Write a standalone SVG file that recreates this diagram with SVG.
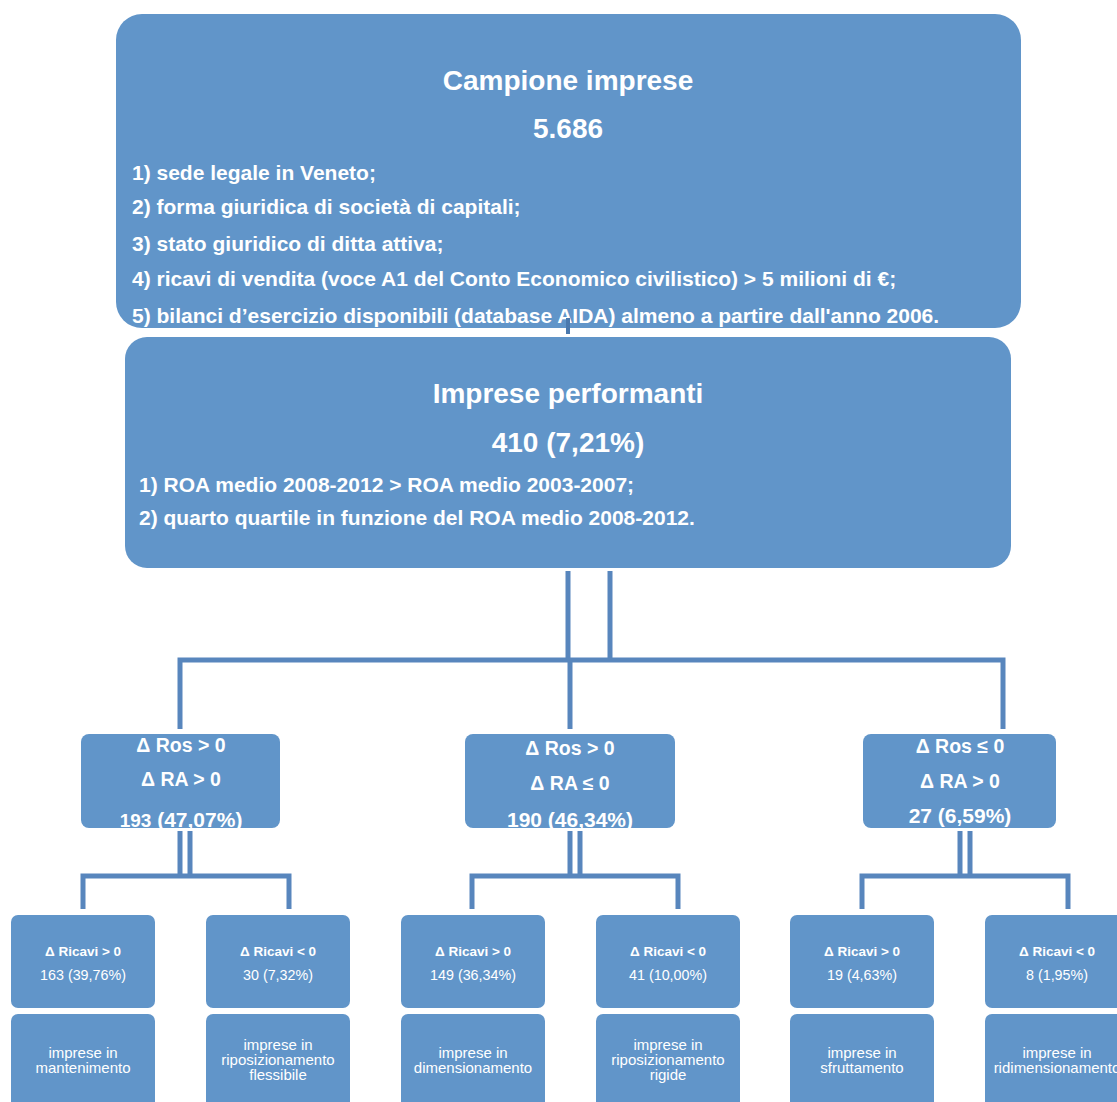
<svg xmlns="http://www.w3.org/2000/svg" width="1117" height="1102" viewBox="0 0 1117 1102">
<style>
.box{fill:#6195c9;}
.t{font-family:"Liberation Sans",Arial,sans-serif;fill:#fff;}
.b{font-weight:bold;}
.c{text-anchor:middle;}
.ln{stroke:#5886bd;stroke-width:5;fill:none;}
</style>
<rect width="1117" height="1102" fill="#fff"/>
<g id="campione">
<rect class="box" x="116" y="14" width="905" height="314" rx="26"/>
<text class="t b c" x="568" y="90" font-size="28">Campione imprese</text>
<text class="t b c" x="568" y="138" font-size="28">5.686</text>
<g class="t b" font-size="21">
<text x="132" y="180">1) sede legale in Veneto;</text>
<text x="132" y="214">2) forma giuridica di società di capitali;</text>
<text x="132" y="251">3) stato giuridico di ditta attiva;</text>
<text x="132" y="286">4) ricavi di vendita (voce A1 del Conto Economico civilistico) &gt; 5 milioni di €;</text>
<text x="132" y="323">5) bilanci d’esercizio disponibili (database AIDA) almeno a partire dall'anno 2006.</text>
</g>
</g>
<g id="performanti">
<rect class="box" x="125" y="337" width="886" height="231" rx="22"/>
<text class="t b c" x="568" y="403" font-size="28">Imprese performanti</text>
<text class="t b c" x="568" y="452" font-size="28">410 (7,21%)</text>
<text class="t b" x="139" y="492" font-size="21">1) ROA medio 2008-2012 &gt; ROA medio 2003-2007;</text>
<text class="t b" x="139" y="525" font-size="21">2) quarto quartile in funzione del ROA medio 2008-2012.</text>
</g>
<g id="connectors">
<line x1="568" y1="318" x2="568" y2="334" stroke="#4a78ad" stroke-width="4"/>
<path class="ln" d="M568 571 V660 M610 571 V660"/>
<path class="ln" d="M180 729 V660 H1003 V729 M570 660 V729"/>
<path class="ln" d="M180 831 V876 M190 831 V876 M570 831 V876 M580 831 V876 M960 831 V876 M970 831 V876"/>
<path class="ln" d="M83 909 V876 H289 V909"/>
<path class="ln" d="M472 909 V876 H678 V909"/>
<path class="ln" d="M862 909 V876 H1068 V909"/>
</g>
<g id="n_a">
<rect class="box" x="81" y="734" width="199" height="94" rx="8"/>
<text class="t b c" x="181" y="752" font-size="19.5">Δ Ros &gt; 0</text>
<text class="t b c" x="181" y="786" font-size="19.5">Δ RA &gt; 0</text>
<text class="t b c" x="181" y="827" font-size="21"><tspan font-size="19">193</tspan> (47,07%)</text>
</g>
<g id="n_b">
<rect class="box" x="465" y="734" width="210" height="94" rx="8"/>
<text class="t b c" x="570" y="755" font-size="19.5">Δ Ros &gt; 0</text>
<text class="t b c" x="570" y="790" font-size="19.5">Δ RA ≤ 0</text>
<text class="t b c" x="570" y="827" font-size="21">190 (46,34%)</text>
</g>
<g id="n_c">
<rect class="box" x="863" y="734" width="193" height="94" rx="8"/>
<text class="t b c" x="960" y="753" font-size="19.5">Δ Ros ≤ 0</text>
<text class="t b c" x="960" y="788" font-size="19.5">Δ RA &gt; 0</text>
<text class="t b c" x="960" y="823" font-size="21">27 (6,59%)</text>
</g>
<g id="n_a1">
<rect class="box" x="11" y="915" width="144" height="93" rx="7"/>
<text class="t b c" x="83" y="956" font-size="13.5">Δ Ricavi &gt; 0</text>
<text class="t c" x="83" y="980" font-size="14.3">163 (39,76%)</text>
<rect class="box" x="11" y="1014" width="144" height="100" rx="7"/>
<text class="t c" x="83" y="1058" font-size="15">imprese in</text>
<text class="t c" x="83" y="1073" font-size="15">mantenimento</text>
</g>
<g id="n_a2">
<rect class="box" x="206" y="915" width="144" height="93" rx="7"/>
<text class="t b c" x="278" y="956" font-size="13.5">Δ Ricavi &lt; 0</text>
<text class="t c" x="278" y="980" font-size="14.3">30 (7,32%)</text>
<rect class="box" x="206" y="1014" width="144" height="100" rx="7"/>
<text class="t c" x="278" y="1050" font-size="15">imprese in</text>
<text class="t c" x="278" y="1065" font-size="15">riposizionamento</text>
<text class="t c" x="278" y="1080" font-size="15">flessibile</text>
</g>
<g id="n_b1">
<rect class="box" x="401" y="915" width="144" height="93" rx="7"/>
<text class="t b c" x="473" y="956" font-size="13.5">Δ Ricavi &gt; 0</text>
<text class="t c" x="473" y="980" font-size="14.3">149 (36,34%)</text>
<rect class="box" x="401" y="1014" width="144" height="100" rx="7"/>
<text class="t c" x="473" y="1058" font-size="15">imprese in</text>
<text class="t c" x="473" y="1073" font-size="15">dimensionamento</text>
</g>
<g id="n_b2">
<rect class="box" x="596" y="915" width="144" height="93" rx="7"/>
<text class="t b c" x="668" y="956" font-size="13.5">Δ Ricavi &lt; 0</text>
<text class="t c" x="668" y="980" font-size="14.3">41 (10,00%)</text>
<rect class="box" x="596" y="1014" width="144" height="100" rx="7"/>
<text class="t c" x="668" y="1050" font-size="15">imprese in</text>
<text class="t c" x="668" y="1065" font-size="15">riposizionamento</text>
<text class="t c" x="668" y="1080" font-size="15">rigide</text>
</g>
<g id="n_c1">
<rect class="box" x="790" y="915" width="144" height="93" rx="7"/>
<text class="t b c" x="862" y="956" font-size="13.5">Δ Ricavi &gt; 0</text>
<text class="t c" x="862" y="980" font-size="14.3">19 (4,63%)</text>
<rect class="box" x="790" y="1014" width="144" height="100" rx="7"/>
<text class="t c" x="862" y="1058" font-size="15">imprese in</text>
<text class="t c" x="862" y="1073" font-size="15">sfruttamento</text>
</g>
<g id="n_c2">
<rect class="box" x="985" y="915" width="144" height="93" rx="7"/>
<text class="t b c" x="1057" y="956" font-size="13.5">Δ Ricavi &lt; 0</text>
<text class="t c" x="1057" y="980" font-size="14.3">8 (1,95%)</text>
<rect class="box" x="985" y="1014" width="144" height="100" rx="7"/>
<text class="t c" x="1057" y="1058" font-size="15">imprese in</text>
<text class="t c" x="1057" y="1073" font-size="15">ridimensionamento</text>
</g>
</svg>
